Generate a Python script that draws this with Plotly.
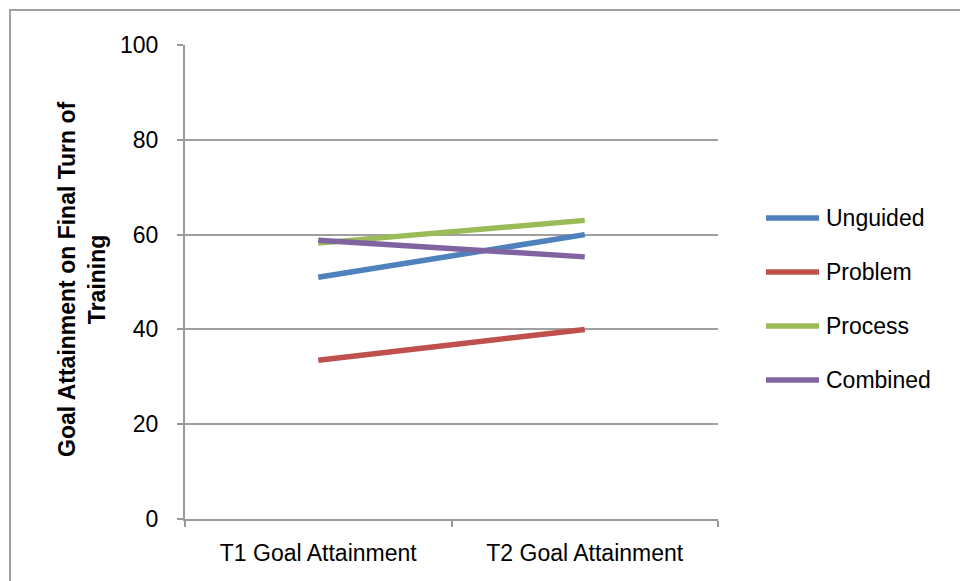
import plotly.graph_objects as go

categories = ["T1 Goal Attainment", "T2 Goal Attainment"]
series_names = ["Unguided", "Problem", "Process", "Combined"]
unguided = [51, 60]
problem = [33.5, 40]
process = [58.2, 63]
combined = [58.8, 55.3]
series_values = [unguided, problem, process, combined]
colors = ["#4F81BD", "#C0504D", "#9BBB59", "#8064A2"]
y_ticks = [0, 20, 40, 60, 80, 100]

FONT = "Liberation Sans"
FS = 23
L, R, T, B = 185, 242, 45, 62
W, H = 960, 581
PW, PH = W - L - R, H - T - B


def px_x(px):
    return (px - L) / PW


def px_y(py):
    return (H - B - py) / PH


fig = go.Figure()
for i, (name, vals) in enumerate(zip(series_names, series_values)):
    fig.add_trace(go.Scatter(
        x=categories, y=vals, name=name, mode="lines",
        line=dict(color=colors[i], width=5.5), showlegend=False,
    ))

shapes = [dict(type="rect", xref="paper", yref="paper",
               x0=px_x(10), x1=2, y0=-1, y1=px_y(10),
               line=dict(color="#A0A0A0", width=2), layer="below")]
annotations = [dict(text="<b>Goal Attainment on Final Turn of<br>Training</b>",
                    xref="paper", yref="paper", x=px_x(112), y=px_y(279),
                    xanchor="right", yanchor="middle", textangle=-90,
                    showarrow=False, font=dict(size=FS))]
# legend (drawn manually to match the long legend keys)
for i, name in enumerate(series_names):
    ry = 218 + 54 * i
    shapes.append(dict(type="line", xref="paper", yref="paper",
                       x0=px_x(766), x1=px_x(819), y0=px_y(ry), y1=px_y(ry),
                       line=dict(color=colors[i], width=5.5)))
    annotations.append(dict(text=name, xref="paper", yref="paper",
                            x=px_x(824), y=px_y(ry), xanchor="left",
                            yanchor="middle", showarrow=False,
                            font=dict(size=FS)))

fig.update_layout(
    width=W, height=H,
    margin=dict(l=L, r=R, t=T, b=B),
    paper_bgcolor="white", plot_bgcolor="white",
    font=dict(family=FONT, size=FS, color="black"),
    showlegend=False,
    xaxis=dict(type="category", range=[-0.5, 1.5], tickson="boundaries",
               ticks="outside", ticklen=6, tickcolor="#999999", tickwidth=2,
               showline=True, linecolor="#999999", linewidth=2,
               showgrid=False, tickfont=dict(size=FS), zeroline=False,
               ticklabelstandoff=12),
    yaxis=dict(range=[0, 100], tickvals=y_ticks, ticks="outside", ticklen=6,
               tickcolor="#999999", tickwidth=2, showline=True,
               linecolor="#999999", linewidth=2, showgrid=True,
               gridcolor="#A0A0A0", gridwidth=2,
               tickfont=dict(size=FS), zeroline=False, ticklabelstandoff=14),
    shapes=shapes,
    annotations=annotations,
)
fig.write_html("out.html")
